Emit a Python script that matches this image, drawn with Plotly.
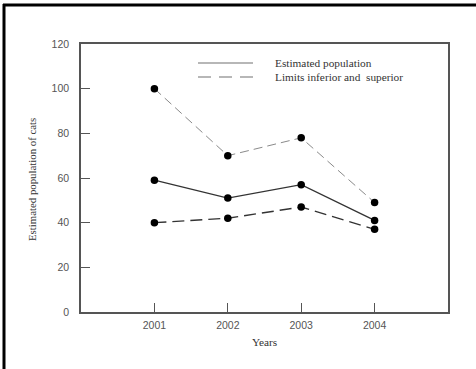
import plotly.graph_objects as go

years = [2001, 2002, 2003, 2004]
estimated = [59, 51, 57, 41]
upper = [100, 70, 78, 49]
lower = [40, 42, 47, 37]
y_ticks = [0, 20, 40, 60, 80, 100, 120]
legend_labels = ["Estimated population", "Limits inferior and  superior"]

W, H = 476, 369
L, R, T, B = 81, 28, 44, 57
pw, ph = W - L - R, H - T - B


def px(x):
    return (x - L) / pw


def py(y):
    return (H - B - y) / ph


fig = go.Figure()
fig.add_trace(go.Scatter(x=years, y=upper, mode="lines+markers",
                         line=dict(color="#8a8a8a", width=1, dash="9px,5px"),
                         marker=dict(color="black", size=7.5), showlegend=False))
fig.add_trace(go.Scatter(x=years, y=lower, mode="lines+markers",
                         line=dict(color="#333333", width=1.4, dash="12px,6px"),
                         marker=dict(color="black", size=7.5), showlegend=False))
fig.add_trace(go.Scatter(x=years, y=estimated, mode="lines+markers",
                         line=dict(color="#333333", width=1.3),
                         marker=dict(color="black", size=7.5), showlegend=False))

shapes = [
    # outer frame (top and left visible)
    dict(type="line", xref="paper", yref="paper", x0=px(3), x1=px(W + 5), y0=py(5), y1=py(5),
         line=dict(color="black", width=3)),
    dict(type="line", xref="paper", yref="paper", x0=px(4), x1=px(4), y0=py(4), y1=py(H + 5),
         line=dict(color="black", width=3)),
    # legend samples
    dict(type="line", xref="paper", yref="paper", x0=px(198), x1=px(253), y0=py(63), y1=py(63),
         line=dict(color="#707070", width=1.2)),
    dict(type="line", xref="paper", yref="paper", x0=px(198), x1=px(253), y0=py(77), y1=py(77),
         line=dict(color="#707070", width=1.2, dash="13px,8px")),
]

ann_font = dict(family="Liberation Serif, Times New Roman, serif", size=11.3, color="#333333")
annotations = [
    dict(text=legend_labels[0], xref="paper", yref="paper", x=px(273), y=py(63),
         xanchor="left", yanchor="middle", showarrow=False, font=ann_font),
    dict(text=legend_labels[1], xref="paper", yref="paper", x=px(273), y=py(77),
         xanchor="left", yanchor="middle", showarrow=False, font=ann_font),
    dict(text="Years", xref="paper", yref="paper", x=px(264), y=py(342),
         xanchor="center", yanchor="middle", showarrow=False, font=ann_font),
    dict(text="Estimated population of cats", xref="paper", yref="paper", x=px(32), y=py(180),
         xanchor="center", yanchor="middle", textangle=-90, showarrow=False,
         font=dict(family="Liberation Serif, Times New Roman, serif", size=10.8, color="#333333")),
]

tick_font = dict(family="Liberation Sans, Arial, sans-serif", size=10.5, color="#555555")
fig.update_layout(
    width=W, height=H,
    margin=dict(l=L, r=R, t=T, b=B, pad=0),
    paper_bgcolor="white", plot_bgcolor="white",
    showlegend=False,
    shapes=shapes, annotations=annotations,
    xaxis=dict(range=[2000, 2005], tickvals=years, ticktext=[str(y) for y in years],
               ticks="inside", ticklen=9, tickcolor="#555555", tickwidth=1.2,
               showline=True, linecolor="#555555", linewidth=1.5, mirror=True,
               showgrid=False, zeroline=False, tickfont=tick_font, ticklabelstandoff=3),
    yaxis=dict(range=[0, 120], tickvals=y_ticks,
               ticks="inside", ticklen=9, tickcolor="#555555", tickwidth=1.2,
               showline=True, linecolor="#555555", linewidth=1.5, mirror=True,
               showgrid=False, zeroline=False, tickfont=tick_font, ticklabelstandoff=8),
)

fig.write_html("out.html", config={"displayModeBar": False},
               post_script="document.body.style.margin='0';document.body.style.overflow='hidden';")
